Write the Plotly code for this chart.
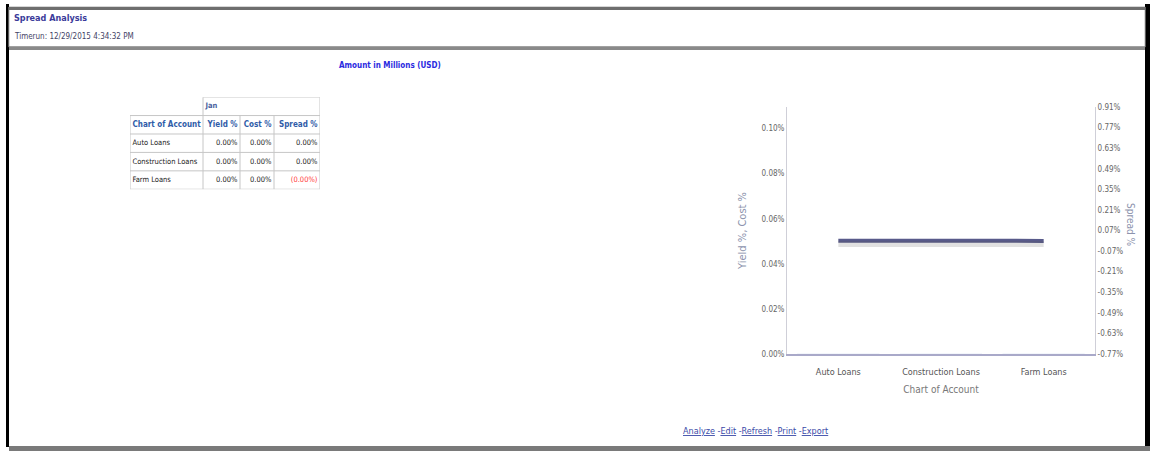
import plotly.graph_objects as go

W, H = 1150, 456

# ---- data ----
accounts = ["Auto Loans", "Construction Loans", "Farm Loans"]
yield_pct = [0.0, 0.0, 0.0]
cost_pct = [0.0, 0.0, 0.0]
spread_pct = [0.0, 0.0, -0.001]
period = "Jan"
table_headers = ["Chart of Account", "Yield %", "Cost %", "Spread %"]
left_ticks = [0.00, 0.02, 0.04, 0.06, 0.08, 0.10]
right_ticks = [-0.77, -0.63, -0.49, -0.35, -0.21, -0.07, 0.07, 0.21, 0.35, 0.49, 0.63, 0.77, 0.91]

# ---- styling ----
FONT = "Liberation Sans Narrow, DejaVu Sans Condensed, Liberation Sans, Arial"
BLUE_HDR = "#2f5ca8"
GRID = "#c6c6c6"
COL_W = [73, 37, 34, 46]          # table column widths
PAD = 2.5


def px(x):
    return x / W


def py(y):
    return 1 - y / H


def fmt(v):
    return f"({abs(v):.2f}%)" if v < 0 else f"{v:.2f}%"


fig = go.Figure()

# ---- summary table, laid out on its own hidden axis pair (x4/y4) ----
edges = [0]
for w in COL_W:
    edges.append(edges[-1] + w)
n_rows = len(accounts)
first_body = 2                     # row 0: period band, row 1: column headers
total_rows = first_body + n_rows

body_cols = [accounts,
             [fmt(v) for v in yield_pct],
             [fmt(v) for v in cost_pct],
             [fmt(v) for v in spread_pct]]
body_colors = [["#222222"] * n_rows, ["#222222"] * n_rows, ["#222222"] * n_rows,
               ["#ff3b3b" if v < 0 else "#222222" for v in spread_pct]]

for ci in range(len(COL_W)):
    left = ci == 0
    xpos = edges[ci] + PAD if left else edges[ci + 1] - PAD
    tpos = "middle right" if left else "middle left"
    # column header
    fig.add_trace(go.Scatter(
        x=[xpos], y=[1.5], mode="text", text=[f"<b>{table_headers[ci]}</b>"],
        textposition=tpos, textfont=dict(family=FONT, size=8, color=BLUE_HDR),
        xaxis="x4", yaxis="y4", hoverinfo="skip", showlegend=False))
    # body cells
    fig.add_trace(go.Scatter(
        x=[xpos] * n_rows, y=[r + first_body + 0.5 for r in range(n_rows)],
        mode="text", text=body_cols[ci], textposition=tpos,
        textfont=dict(family=FONT, size=7.5, color=body_colors[ci]),
        xaxis="x4", yaxis="y4", hoverinfo="skip", showlegend=False))

fig.add_trace(go.Scatter(
    x=[edges[1] + PAD], y=[0.5], mode="text", text=[f"<b>{period}</b>"],
    textposition="middle right", textfont=dict(family=FONT, size=7.5, color="#4a62a0"),
    xaxis="x4", yaxis="y4", hoverinfo="skip", showlegend=False))

table_shapes = []
# horizontal rules
table_shapes.append(dict(x0=edges[1], x1=edges[-1], y0=0, y1=0))
for r in range(1, total_rows + 1):
    table_shapes.append(dict(x0=edges[0], x1=edges[-1], y0=r, y1=r))
# vertical rules
table_shapes.append(dict(x0=edges[0], x1=edges[0], y0=1, y1=total_rows))
table_shapes.append(dict(x0=edges[1], x1=edges[1], y0=0, y1=total_rows))
table_shapes.append(dict(x0=edges[-1], x1=edges[-1], y0=0, y1=total_rows))
for e in edges[2:-1]:
    table_shapes.append(dict(x0=e, x1=e, y0=1, y1=total_rows))
for s in table_shapes:
    s.update(type="line", xref="x4", yref="y4", line=dict(color=GRID, width=1), layer="below")

# ---- chart: yield/cost bars on left axis, spread line on right axis ----
fig.add_trace(go.Bar(x=accounts, y=yield_pct, name="Yield %", marker_color="#6b78b4",
                     xaxis="x", yaxis="y", showlegend=False))
fig.add_trace(go.Bar(x=accounts, y=cost_pct, name="Cost %", marker_color="#9aa6d0",
                     xaxis="x", yaxis="y", showlegend=False))
# soft drop shadow under the spread line
fig.add_trace(go.Scatter(x=accounts, y=spread_pct, mode="lines", xaxis="x", yaxis="y3",
                         line=dict(color="rgba(90,90,90,0.18)", width=6),
                         hoverinfo="skip", showlegend=False))
fig.add_trace(go.Scatter(x=accounts, y=spread_pct, mode="lines", name="Spread %",
                         xaxis="x", yaxis="y2",
                         line=dict(color="#585a8a", width=4), showlegend=False))

r2 = [right_ticks[0], right_ticks[-1]]
shift = 0.022

fig.update_layout(
    width=W, height=H,
    margin=dict(l=0, r=0, t=0, b=0),
    paper_bgcolor="white", plot_bgcolor="white",
    showlegend=False,
    barmode="group",
    xaxis=dict(
        domain=[px(787), px(1095)],
        showgrid=False, zeroline=False,
        showline=True, linecolor="#a9a9c9", linewidth=1.5,
        tickfont=dict(family=FONT, size=9, color="#555555"),
        ticklabelstandoff=8,
        title=dict(text="Chart of Account", font=dict(family=FONT, size=10, color="#777777"),
                   standoff=10),
        ticks="",
    ),
    yaxis=dict(
        domain=[py(357), py(105)],
        range=[0, 0.1096],
        tickvals=left_ticks,
        ticktext=[f"{v:.2f}%" for v in left_ticks],
        showgrid=False, zeroline=False,
        showline=True, linecolor="#cfcfd8", linewidth=1,
        tickfont=dict(family=FONT, size=8, color="#666666"),
        title=dict(text="Yield %, Cost %", font=dict(family=FONT, size=11, color="#8c93ad"),
                   standoff=12),
        ticks="",
    ),
    yaxis2=dict(
        overlaying="y", side="right", anchor="x",
        range=r2,
        tickvals=right_ticks,
        ticktext=[f"{v:.2f}%" for v in right_ticks],
        showgrid=False, zeroline=False,
        showline=True, linecolor="#cfcfd8", linewidth=1,
        tickfont=dict(family=FONT, size=8, color="#666666"),
        ticks="",
    ),
    yaxis3=dict(
        overlaying="y", anchor="x", range=[r2[0] + shift, r2[1] + shift],
        visible=False,
    ),
    xaxis4=dict(
        domain=[px(130), px(320)], range=[edges[0], edges[-1]], anchor="y4",
        visible=False, fixedrange=True,
    ),
    yaxis4=dict(
        domain=[py(189), py(95)], range=[total_rows, 0], anchor="x4",
        visible=False, fixedrange=True,
    ),
)

annotations = [
    dict(x=px(1138), y=py(225), text="Spread %", textangle=90,
         font=dict(family=FONT, size=10, color="#8c93ad")),
    dict(x=px(12), y=py(14), xanchor="left", text="<b>Spread Analysis</b>",
         font=dict(family=FONT, size=9, color="#3b3b9a")),
    dict(x=px(12), y=py(33), xanchor="left", text="Timerun: 12/29/2015 4:34:32 PM",
         font=dict(family=FONT, size=8, color="#444466")),
    dict(x=px(390), y=py(63), text="<b>Amount in Millions (USD)</b>",
         font=dict(family=FONT, size=8, color="#2a2ae0")),
    dict(x=px(755), y=py(436), text="<u>Analyze</u> -<u>Edit</u> -<u>Refresh</u> -<u>Print</u> -<u>Export</u>",
         font=dict(family=FONT, size=9, color="#3a4aa8")),
]
for a in annotations:
    a.update(xref="paper", yref="paper", yanchor="middle", showarrow=False)
fig.update_layout(annotations=annotations)

# page frame and header box
frame = [
    dict(type="rect", x0=px(6), x1=px(9), y0=py(452), y1=py(0), fillcolor="black", line_width=0),
    dict(type="rect", x0=px(1145), x1=px(1150), y0=py(452), y1=py(0), fillcolor="black", line_width=0),
    dict(type="rect", x0=px(9), x1=px(1145), y0=py(44), y1=py(3),
         fillcolor="rgba(0,0,0,0)", line=dict(color="#b8b8b8", width=1)),
    dict(type="rect", x0=px(9), x1=px(1145), y0=py(6), y1=py(3), fillcolor="#6e6e6e", line_width=0),
    dict(type="rect", x0=px(9), x1=px(1145), y0=py(47), y1=py(43), fillcolor="#8a8a8a", line_width=0),
    dict(type="rect", x0=px(9), x1=px(1150), y0=py(456), y1=py(451), fillcolor="#7a7a7a", line_width=0),
]
for s in frame:
    s.update(xref="paper", yref="paper", layer="above")
fig.update_layout(shapes=table_shapes + frame)

fig.write_html("out.html")
